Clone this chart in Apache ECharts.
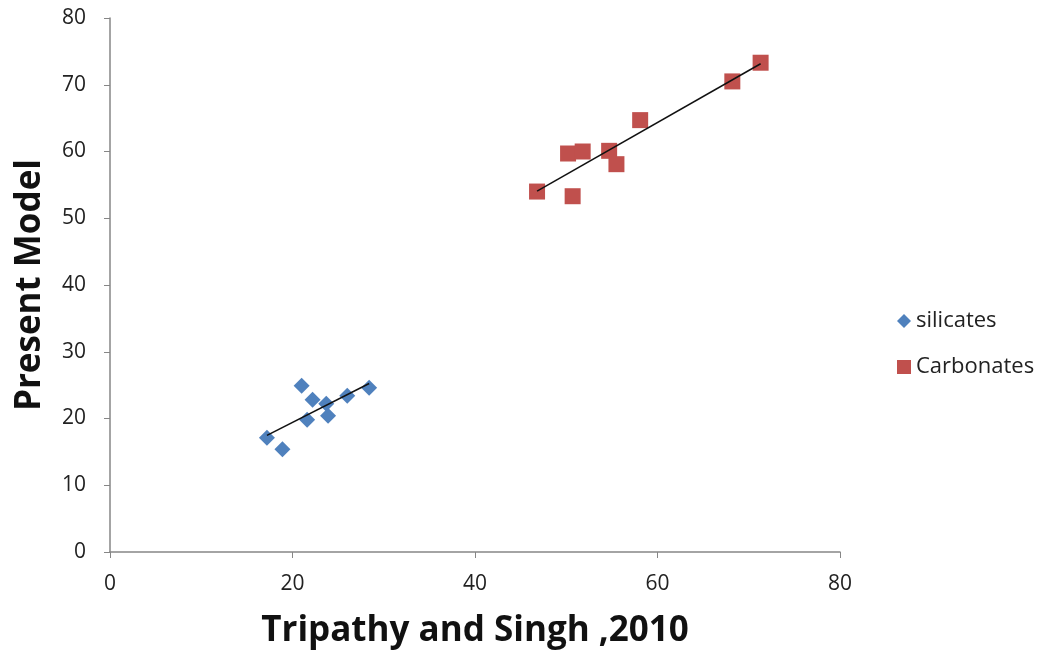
<!DOCTYPE html>
<html>
<head>
<meta charset="utf-8">
<script src="https://cdn.jsdelivr.net/npm/echarts@6/dist/echarts.min.js"></script>
<style>html,body{margin:0;padding:0;background:#fff;}#c{width:1046px;height:658px;}</style>
</head>
<body>
<div id="c"></div>
<script>
// Data
const silicatesX = [17.2, 18.9, 21.0, 21.6, 22.2, 23.7, 23.9, 26.0, 28.4];
const silicatesY = [17.1, 15.4, 24.9, 19.8, 22.8, 22.2, 20.4, 23.4, 24.6];
const carbonatesX = [46.8, 50.7, 50.2, 51.8, 54.7, 55.5, 58.1, 68.2, 71.3];
const carbonatesY = [54.0, 53.3, 59.7, 60.0, 60.1, 58.1, 64.7, 70.5, 73.3];
const xTicks = [0, 20, 40, 60, 80];
const yTicks = [0, 10, 20, 30, 40, 50, 60, 70, 80];

function pairs(xs, ys) { return xs.map((x, i) => [x, ys[i]]); }
// Linear trendline (least squares), like the spreadsheet trendline
function trend(xs, ys) {
  const n = xs.length;
  const mx = xs.reduce((a, b) => a + b, 0) / n;
  const my = ys.reduce((a, b) => a + b, 0) / n;
  let sxy = 0, sxx = 0;
  for (let i = 0; i < n; i++) { sxy += (xs[i] - mx) * (ys[i] - my); sxx += (xs[i] - mx) ** 2; }
  const b = sxy / sxx, a = my - b * mx;
  const x0 = Math.min(...xs), x1 = Math.max(...xs);
  return [[x0, a + b * x0], [x1, a + b * x1]];
}

const chart = echarts.init(document.getElementById('c'));
chart.setOption({
  animation: false,
  backgroundColor: '#ffffff',
  textStyle: { fontFamily: 'Open Sans' },
  grid: { left: 110, right: 206, top: 18, bottom: 106 },
  legend: {
    orient: 'vertical', left: 892, top: 305, itemGap: 24,
    itemWidth: 14, itemHeight: 14,
    textStyle: { fontSize: 22, color: '#222', fontFamily: 'Open Sans' },
    data: [
      { name: 'silicates', icon: 'diamond' },
      { name: 'Carbonates', icon: 'rect' }
    ]
  },
  xAxis: {
    type: 'value', min: xTicks[0], max: xTicks[xTicks.length - 1], interval: 20,
    name: 'Tripathy and Singh ,2010', nameLocation: 'middle', nameGap: 62,
    nameTextStyle: { fontSize: 35, fontWeight: 'bold', color: '#111', fontFamily: 'Open Sans' },
    axisLine: { lineStyle: { color: '#868686', width: 1.5 } },
    axisTick: { show: true, length: 6, lineStyle: { color: '#868686' } },
    axisLabel: { fontSize: 21, color: '#222', margin: 22 },
    splitLine: { show: false }
  },
  yAxis: {
    type: 'value', min: yTicks[0], max: yTicks[yTicks.length - 1], interval: 10,
    name: 'Present Model', nameLocation: 'middle', nameGap: 62,
    nameTextStyle: { fontSize: 35, fontWeight: 'bold', color: '#111', fontFamily: 'Open Sans' },
    axisLine: { show: true, lineStyle: { color: '#868686', width: 1.5 } },
    axisTick: { show: true, length: 6, lineStyle: { color: '#868686' } },
    axisLabel: { fontSize: 21, color: '#222', margin: 24 },
    splitLine: { show: false }
  },
  series: [
    {
      name: 'silicates', type: 'scatter', symbol: 'diamond', symbolSize: 16,
      itemStyle: { color: '#4F81BD', opacity: 1 }, data: pairs(silicatesX, silicatesY), z: 2
    },
    {
      name: 'Carbonates', type: 'scatter', symbol: 'rect', symbolSize: 16,
      itemStyle: { color: '#C0504D', opacity: 1 }, data: pairs(carbonatesX, carbonatesY), z: 2
    },
    {
      name: 'silicatesTrend', type: 'line', showSymbol: false, symbol: 'none',
      lineStyle: { color: '#111', width: 1.5 }, data: trend(silicatesX, silicatesY), z: 3
    },
    {
      name: 'carbonatesTrend', type: 'line', showSymbol: false, symbol: 'none',
      lineStyle: { color: '#111', width: 1.5 }, data: trend(carbonatesX, carbonatesY), z: 3
    }
  ]
});
</script>
</body>
</html>
